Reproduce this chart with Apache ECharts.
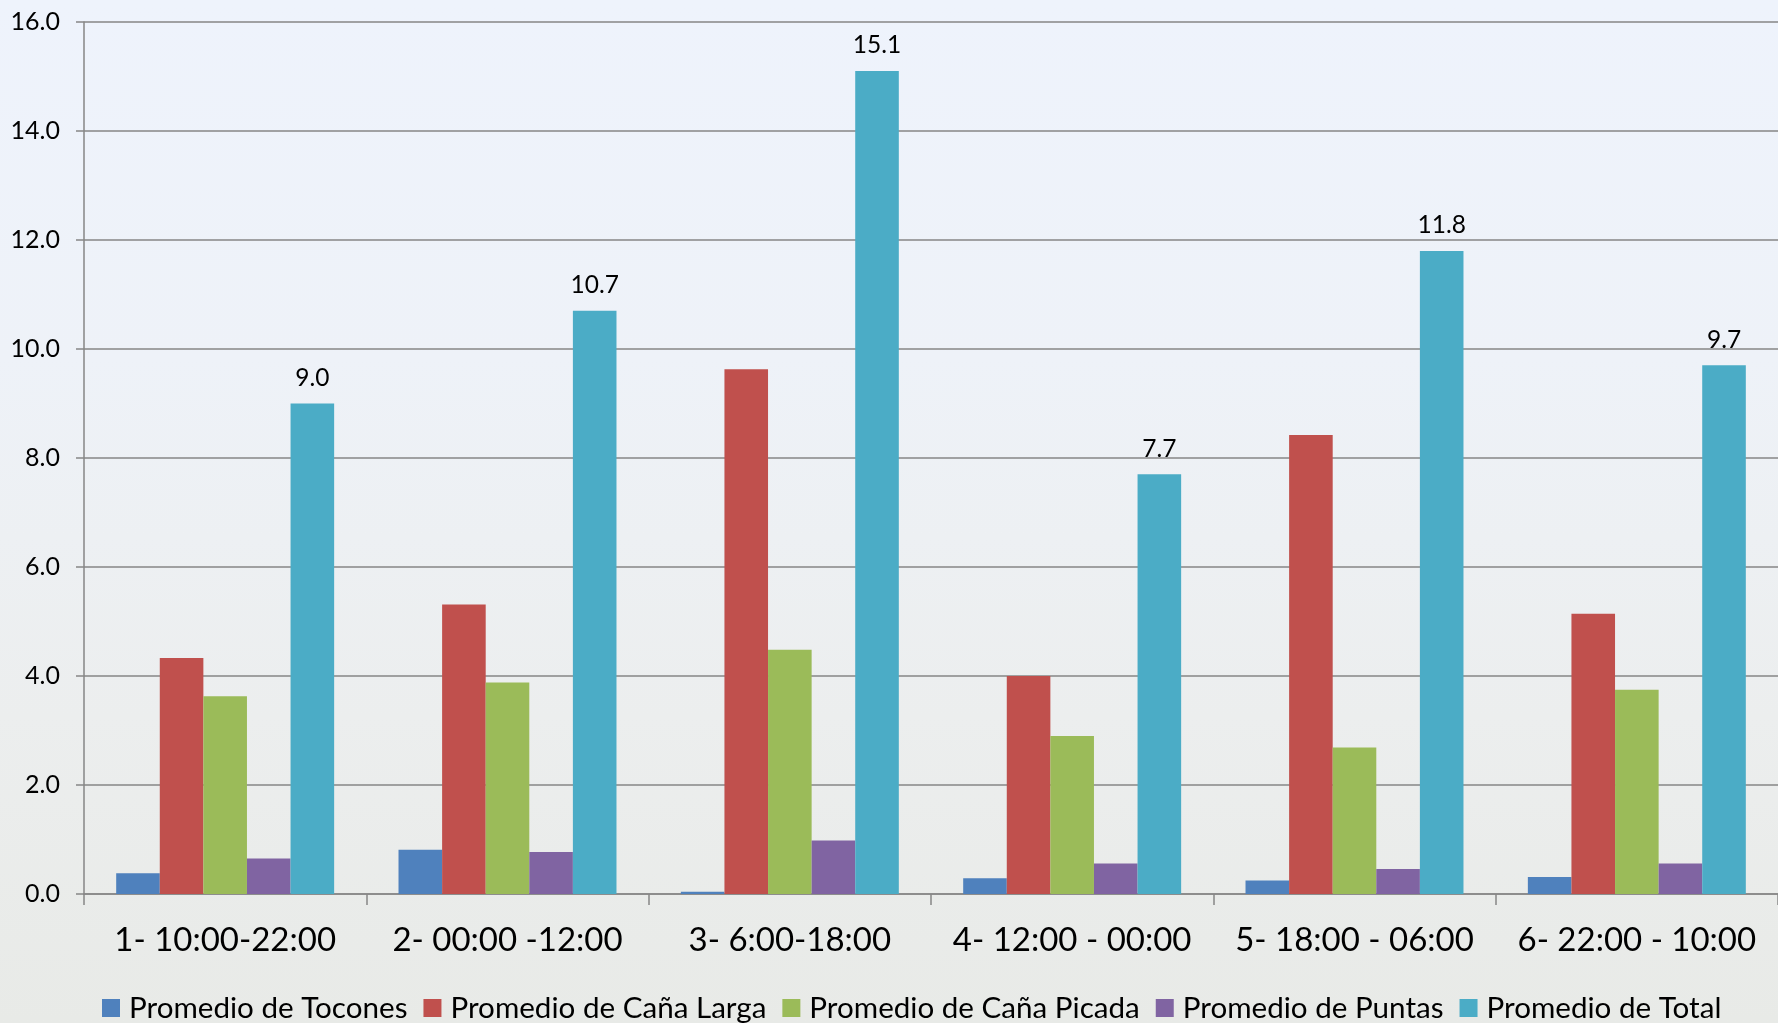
<!DOCTYPE html>
<html>
<head>
<meta charset="utf-8">
<title>Promedios por turno</title>
<script src="https://cdn.jsdelivr.net/npm/echarts@6/dist/echarts.min.js"></script>
<style>
  html, body { margin: 0; padding: 0; }
  body {
    width: 1778px; height: 1023px; overflow: hidden;
    background: linear-gradient(180deg, #eef3fc 0%, #eef2f8 35%, #eceeee 70%, #e8eae7 100%);
  }
  #chart { width: 1778px; height: 1023px; }
</style>
</head>
<body>
<div id="chart"></div>
<script>
// Turnos de corte (categorías del eje X)
const turnos = ['1- 10:00-22:00', '2- 00:00 -12:00', '3- 6:00-18:00', '4- 12:00 - 00:00', '5- 18:00 - 06:00', '6- 22:00 - 10:00'];

// Promedios por turno
const tocones    = [0.38, 0.81, 0.04, 0.29, 0.25, 0.31];
const canaLarga  = [4.33, 5.31, 9.63, 4.00, 8.42, 5.14];
const canaPicada = [3.63, 3.88, 4.48, 2.90, 2.69, 3.75];
const puntas     = [0.65, 0.77, 0.98, 0.56, 0.46, 0.56];
const total      = [9.0, 10.7, 15.1, 7.7, 11.8, 9.7];

// Eje Y
const yMin = 0, yMax = 16, yStep = 2;

const FONT = 'Lato';
const colores = ['#4F81BD', '#C0504D', '#9BBB59', '#8064A2', '#4BACC6'];

function barra(nombre, datos, color, conEtiqueta) {
  return {
    name: nombre,
    type: 'bar',
    data: datos,
    barGap: '0%',
    barCategoryGap: '22.8%',
    itemStyle: { color: color },
    label: conEtiqueta ? {
      show: true,
      position: 'top',
      distance: 13,
      fontFamily: FONT,
      fontSize: 24.5,
      color: '#000',
      formatter: p => p.value.toFixed(1)
    } : { show: false }
  };
}

const chart = echarts.init(document.getElementById('chart'), null, { renderer: 'canvas' });
chart.setOption({
  backgroundColor: 'transparent',
  animation: false,
  textStyle: { fontFamily: FONT },
  grid: { left: 84, top: 22, right: -8, bottom: 129, containLabel: false },
  legend: {
    left: 102,
    top: 993,
    padding: 0,
    itemWidth: 18,
    itemHeight: 18,
    itemGap: 16,
    icon: 'rect',
    textStyle: { fontFamily: FONT, fontSize: 29.6, color: '#000', padding: [0, 0, 0, 4] },
    data: ['Promedio de Tocones', 'Promedio de Caña Larga', 'Promedio de Caña Picada', 'Promedio de Puntas', 'Promedio de Total']
  },
  xAxis: {
    type: 'category',
    data: turnos,
    boundaryGap: true,
    axisLine: { lineStyle: { color: '#868686', width: 1.5 } },
    axisTick: { show: true, length: 11, alignWithLabel: false, lineStyle: { color: '#868686', width: 1.5 } },
    axisLabel: { fontFamily: FONT, fontSize: 33, color: '#000', margin: 30, interval: 0 },
    splitLine: { show: false }
  },
  yAxis: {
    type: 'value',
    min: yMin,
    max: yMax,
    interval: yStep,
    axisLine: { show: true, lineStyle: { color: '#868686', width: 1.5 } },
    axisTick: { show: true, length: 8, lineStyle: { color: '#868686', width: 1.5 } },
    axisLabel: { fontFamily: FONT, fontSize: 25, color: '#000', margin: 24, formatter: v => v.toFixed(1) },
    splitLine: { show: true, lineStyle: { color: '#868686', width: 1.5 } }
  },
  series: [
    barra('Promedio de Tocones', tocones, colores[0], false),
    barra('Promedio de Caña Larga', canaLarga, colores[1], false),
    barra('Promedio de Caña Picada', canaPicada, colores[2], false),
    barra('Promedio de Puntas', puntas, colores[3], false),
    barra('Promedio de Total', total, colores[4], true)
  ]
});
</script>
</body>
</html>
